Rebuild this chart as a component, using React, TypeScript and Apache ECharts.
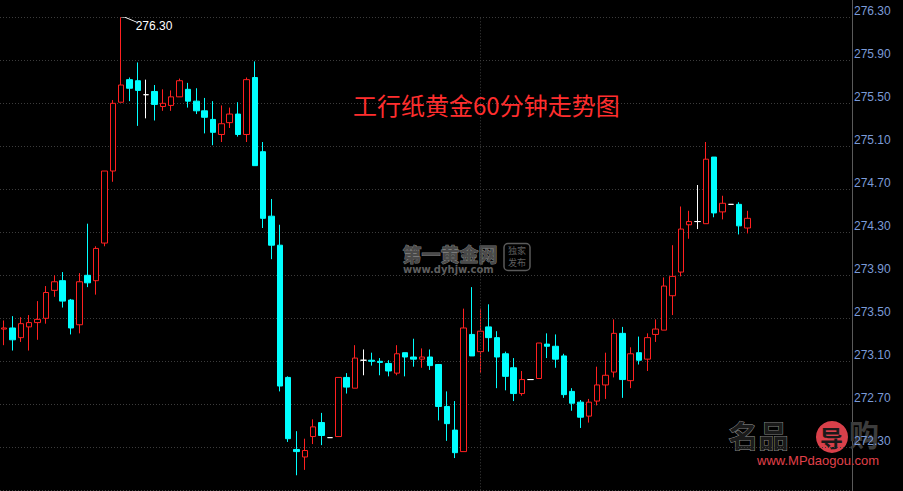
import React, { useEffect, useRef } from "react";
import * as echarts from "echarts";

// price offset so that axis ticks (every 0.40) fall on multiples of the interval
const BASE = 271.9;
const SLOT_COUNT = 102;
const DAY_BREAK_INDEX = 57;
const AXIS_TOP = 276.3;
const AXIS_STEP = 0.4;
const TITLE = "工行纸黄金60分钟走势图";

const opens = [
  273.40, 273.41, 273.32, 273.42, 273.46, 273.50, 273.76, 273.85, 273.67, 273.44,
  273.90, 273.85, 274.20, 274.87, 275.51, 275.72, 275.71, 275.58, 275.61, 275.47,
  275.48, 275.56, 275.63, 275.52, 275.43, 275.35, 275.21, 275.32, 275.40, 275.21,
  275.74, 275.05, 274.45, 274.18, 272.95, 272.28, 272.21, 272.40, 272.53, 272.39,
  272.40, 272.95, 272.85, 273.11, 273.11, 273.10, 273.08, 272.99, 273.18, 273.14,
  273.12, 273.14, 273.07, 272.68, 272.46, 272.26, 273.35, 273.19, 273.42, 273.32,
  273.17, 273.04, 272.80, 272.93, 272.94, 273.26, 273.24, 273.15, 272.82, 272.72,
  272.59, 272.73, 272.88, 273.00, 273.36, 272.92, 273.18, 273.12, 273.35, 273.39,
  273.71, 273.93, 274.37, 274.40, 274.38, 275.00, 274.49, 274.56, 274.56, 274.34,
];
const closes = [
  273.41, 273.30, 273.45, 273.46, 273.49, 273.74, 273.84, 273.66, 273.41, 273.84,
  273.83, 274.15, 274.87, 275.50, 275.67, 275.64, 275.62, 275.58, 275.49, 275.50,
  275.56, 275.71, 275.52, 275.43, 275.37, 275.23, 275.31, 275.40, 275.21, 275.72,
  274.92, 274.43, 274.18, 272.87, 272.38, 272.26, 272.27, 272.49, 272.41, 272.39,
  272.95, 272.86, 273.13, 273.11, 273.10, 273.09, 273.01, 273.17, 273.14, 273.12,
  273.14, 273.06, 272.68, 272.52, 272.25, 273.41, 273.15, 273.38, 273.32, 273.14,
  272.96, 272.80, 272.93, 272.93, 273.27, 273.24, 273.12, 272.79, 272.71, 272.58,
  272.72, 272.88, 272.97, 273.36, 272.93, 273.17, 273.11, 273.32, 273.40, 273.80,
  273.89, 274.33, 274.40, 274.40, 274.98, 274.48, 274.57, 274.56, 274.36, 274.43,
];
const lows = [
  273.25, 273.20, 273.28, 273.20, 273.30, 273.45, 273.70, 273.60, 273.35, 273.36,
  273.79, 273.72, 274.17, 274.77, 275.51, 275.52, 275.29, 275.36, 275.34, 275.43,
  275.43, 275.56, 275.46, 275.40, 275.22, 275.11, 275.14, 275.27, 275.19, 275.14,
  274.92, 274.34, 274.05, 272.82, 272.35, 272.04, 272.09, 272.33, 272.32, 272.39,
  272.40, 272.80, 272.85, 272.97, 273.06, 272.97, 272.96, 272.97, 272.96, 273.05,
  273.04, 273.02, 272.55, 272.36, 272.20, 272.26, 273.15, 272.99, 273.19, 272.85,
  272.83, 272.73, 272.78, 272.93, 272.94, 273.13, 273.04, 272.76, 272.64, 272.48,
  272.53, 272.69, 272.75, 272.95, 272.76, 272.85, 273.07, 273.01, 273.28, 273.39,
  273.53, 273.89, 274.24, 274.33, 274.38, 274.44, 274.42, 274.56, 274.28, 274.29,
];
const highs = [
  273.48, 273.52, 273.51, 273.53, 273.66, 273.80, 273.90, 273.93, 273.68, 273.92,
  274.38, 274.17, 274.87, 275.53, 276.30, 275.74, 275.88, 275.72, 275.67, 275.63,
  275.62, 275.73, 275.69, 275.64, 275.55, 275.52, 275.48, 275.46, 275.51, 275.74,
  275.89, 275.14, 274.61, 274.37, 272.96, 272.45, 272.38, 272.56, 272.62, 272.39,
  272.95, 272.99, 273.25, 273.21, 273.18, 273.13, 273.11, 273.25, 273.18, 273.31,
  273.22, 273.21, 273.07, 272.82, 272.73, 273.59, 273.79, 273.59, 273.63, 273.38,
  273.19, 273.13, 273.01, 272.93, 273.27, 273.36, 273.35, 273.17, 272.85, 272.74,
  272.75, 273.05, 273.18, 273.49, 273.42, 273.23, 273.33, 273.36, 273.49, 273.88,
  274.18, 274.54, 274.50, 274.74, 275.14, 275.00, 274.64, 274.56, 274.58, 274.50,
];

const RED = "#ff2020";
const CYAN = "#00ffff";
const GRID_COLOR = "#3c3c3c";
const LABEL_COLOR = "#7b9bd8";
const NUM_FONT = "'Liberation Sans', Arial, sans-serif";
const CJK_FONT = "'Noto Sans CJK SC', 'Noto Sans', sans-serif";

export default function App() {
  const ref = useRef<HTMLDivElement>(null);

  useEffect(() => {
    if (!ref.current) return;
    const chart = echarts.init(ref.current, undefined, { renderer: "svg" });

    const categories = Array.from({ length: SLOT_COUNT }, (_, i) => String(i));
    const candleData = opens.map((o, i) => {
      const value = [o - BASE, closes[i] - BASE, lows[i] - BASE, highs[i] - BASE];
      if (o === closes[i]) {
        return {
          value,
          itemStyle: { color: "#fff", color0: "#fff", borderColor: "#fff", borderColor0: "#fff" },
        };
      }
      return value;
    });

    const axisMax = AXIS_TOP - BASE;

    chart.setOption({
      animation: false,
      backgroundColor: "#000",
      title: {
        text: TITLE,
        left: 353,
        top: 91,
        padding: 0,
        textStyle: {
          color: "#ff2e2e",
          fontSize: 24,
          lineHeight: 26,
          fontWeight: "normal",
          fontFamily: CJK_FONT,
        },
      },
      grid: { left: 0, right: 51, top: 17.3, bottom: 0.7, containLabel: false },
      xAxis: {
        type: "category",
        data: categories,
        boundaryGap: true,
        axisLine: { show: false },
        axisTick: { show: false },
        axisLabel: { show: false },
        splitLine: { show: false },
      },
      yAxis: {
        type: "value",
        position: "right",
        min: 0,
        max: axisMax,
        interval: AXIS_STEP,
        scale: false,
        axisLine: { show: false },
        axisTick: { show: false },
        splitLine: { show: true, lineStyle: { color: GRID_COLOR, type: [1, 2], width: 1 } },
        axisLabel: {
          showMinLabel: false,
          margin: 2,
          verticalAlign: "bottom",
          color: LABEL_COLOR,
          fontSize: 12,
          fontFamily: NUM_FONT,
          formatter: (v: number) => (v < 0.2 ? "" : (v + BASE).toFixed(2)),
        },
      },
      graphic: [
        {
          type: "line",
          shape: { x1: 852.5, y1: 0, x2: 852.5, y2: 491 },
          style: { stroke: "#5a5a5a", lineWidth: 1 },
          silent: true,
        },
        {
          type: "text",
          left: 402,
          top: 243,
          style: {
            text: "第一黄金网",
            fontSize: 19,
            lineHeight: 19,
            fontWeight: "bold",
            fontFamily: CJK_FONT,
            fill: "#4a4a4a",
            stroke: "#7a7a7a",
            lineWidth: 1,
          },
          silent: true,
        },
        {
          type: "text",
          left: 403,
          top: 264,
          style: {
            text: "www.dyhjw.com",
            fontSize: 10,
            lineHeight: 10,
            fontWeight: "bold",
            fontFamily: "'DejaVu Sans', sans-serif",
            fill: "#5e5e5e",
          },
          silent: true,
        },
        {
          type: "rect",
          shape: { x: 504, y: 243.5, width: 26, height: 27, r: 4 },
          style: { fill: "none", stroke: "#5a5a5a", lineWidth: 1.5 },
          silent: true,
        },
        {
          type: "text",
          left: 508,
          top: 246,
          style: {
            text: "独家",
            fontSize: 9,
            lineHeight: 9,
            fontFamily: CJK_FONT,
            fill: "#5e5e5e",
          },
          silent: true,
        },
        {
          type: "text",
          left: 508,
          top: 258,
          style: {
            text: "发布",
            fontSize: 9,
            lineHeight: 9,
            fontFamily: CJK_FONT,
            fill: "#5e5e5e",
          },
          silent: true,
        },
        {
          type: "text",
          left: 728,
          top: 418,
          style: {
            text: "名品",
            fontSize: 30,
            fontWeight: "bold",
            fontFamily: CJK_FONT,
            fill: "#1a1a1a",
            stroke: "#8a8a8a",
            lineWidth: 1,
          },
          silent: true,
        },
        {
          type: "circle",
          shape: { cx: 832, cy: 437, r: 16 },
          style: { fill: "#d8404a" },
          silent: true,
        },
        {
          type: "text",
          left: 820,
          top: 425,
          style: {
            text: "导",
            fontSize: 23,
            fontWeight: "bold",
            fontFamily: CJK_FONT,
            fill: "#1a1a1a",
          },
          silent: true,
        },
        {
          type: "text",
          left: 849,
          top: 418,
          style: {
            text: "购",
            fontSize: 30,
            fontWeight: "bold",
            fontFamily: CJK_FONT,
            fill: "#3c3c3c",
          },
          silent: true,
        },
        {
          type: "text",
          left: 757,
          top: 454,
          style: {
            text: "www.MPdaogou.com",
            fontSize: 13,
            fontFamily: NUM_FONT,
            fill: "#e0404a",
          },
          silent: true,
        },
      ],
      series: [
        {
          type: "candlestick",
          data: candleData,
          barWidth: 6,
          itemStyle: {
            color: "#000",
            color0: CYAN,
            borderColor: RED,
            borderColor0: CYAN,
            borderColorDoji: "#fff",
            borderWidth: 1,
          },
          emphasis: { disabled: true },
          markLine: {
            silent: true,
            symbol: "none",
            label: { show: false },
            lineStyle: { color: GRID_COLOR, type: [1, 2], width: 1 },
            data: [{ xAxis: String(DAY_BREAK_INDEX) }],
          },
          markPoint: {
            silent: true,
            symbol: "path://M0,0 L4,0 L16,5",
            symbolSize: [16, 5],
            symbolOffset: [8, 2.5],
            symbolKeepAspect: false,
            itemStyle: { color: "none", borderColor: "#fff", borderWidth: 1 },
            label: {
              show: true,
              position: [19, 4],
              color: "#fff",
              fontSize: 12,
              fontFamily: NUM_FONT,
              formatter: (p: any) => (Number(p.value) + BASE).toFixed(2),
            },
            data: [{ type: "max", valueDim: "highest" }],
          },
        },
      ],
    });

    return () => chart.dispose();
  }, []);

  return (
    <div
      ref={ref}
      style={{ position: "fixed", left: 0, top: 0, width: 903, height: 491, background: "#000" }}
    />
  );
}
